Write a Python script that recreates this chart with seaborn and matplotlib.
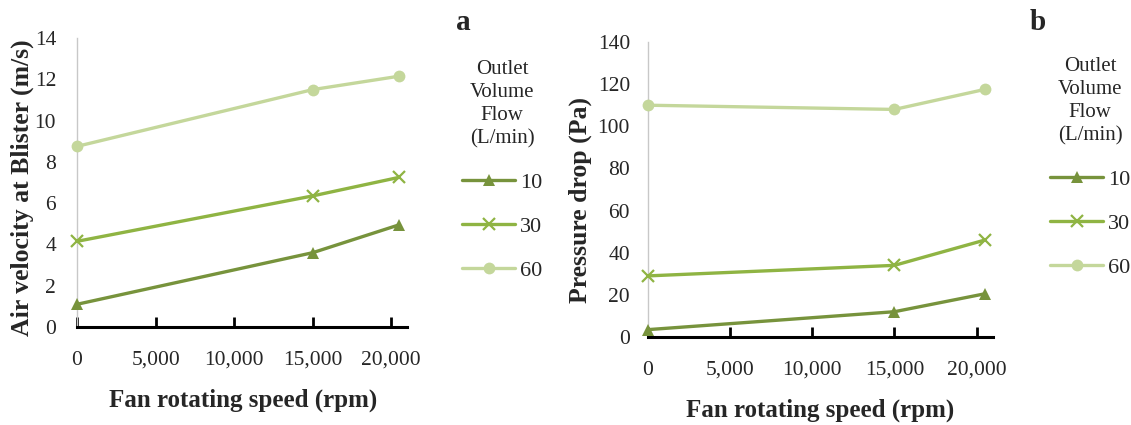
import matplotlib
matplotlib.use("Agg")
import matplotlib.pyplot as plt
import seaborn as sns
import pandas as pd
from matplotlib.ticker import FuncFormatter

sns.set_theme(style="white")
plt.rcParams['font.family'] = ['Liberation Serif', 'DejaVu Serif']

# ---- data ----
speed = [0, 15000, 20500]
flows = ["10", "30", "60"]
vel_10 = [1.1, 3.6, 4.95]
vel_30 = [4.15, 6.35, 7.25]
vel_60 = [8.75, 11.5, 12.15]
dp_10 = [3.5, 12.0, 20.5]
dp_30 = [29.0, 34.0, 46.0]
dp_60 = [110.0, 108.0, 117.5]

colors = {"10": "#77933C", "30": "#8FB443", "60": "#C4D79B"}
markers = {"10": "^", "30": "x", "60": "o"}


def make_df(s10, s30, s60):
    rows = []
    for f, s in zip(flows, [s10, s30, s60]):
        for x, y in zip(speed, s):
            rows.append({"speed": x, "value": y, "flow": f})
    return pd.DataFrame(rows)


df_a = make_df(vel_10, vel_30, vel_60)
df_b = make_df(dp_10, dp_30, dp_60)

W, H = 1131, 425
fig = plt.figure(figsize=(W / 100, H / 100), dpi=100)
ax_a = fig.add_axes([77 / W, 1 - 327 / H, (407 - 77) / W, (327 - 38) / H])
ax_b = fig.add_axes([648 / W, 1 - 337 / H, (993 - 648) / W, (337 - 42) / H])


def style(ax, df, ymax, ystep, ylabel, xlab_pos, ylab_pos, letter, letter_pos,
          leg_pos, ypad):
    for f in flows:
        sub = df[df.flow == f]
        sns.lineplot(data=sub, x="speed", y="value", ax=ax, color=colors[f],
                     marker=markers[f], markersize=8.5,
                     markeredgewidth=1.6 if f == "30" else 0,
                     markeredgecolor=colors[f],
                     linewidth=2.4, label=f, clip_on=False, zorder=3)
    ax.set_xlim(0, 21000)
    ax.set_ylim(0, ymax)
    ax.set_xticks([0, 5000, 10000, 15000, 20000])
    ax.set_yticks(list(range(0, ymax + 1, ystep)))
    ax.xaxis.set_major_formatter(FuncFormatter(lambda v, p: f"{int(v):,}"))
    for s in ["top", "right"]:
        ax.spines[s].set_visible(False)
    ax.spines["left"].set_color("#C8C8C8")
    ax.spines["left"].set_linewidth(1.0)
    ax.spines["bottom"].set_color("black")
    ax.spines["bottom"].set_linewidth(2.2)
    ax.tick_params(axis="x", direction="in", length=7, width=2, color="black",
                   pad=17, labelsize=15.5, bottom=True)
    ax.tick_params(axis="y", length=0, pad=ypad, labelsize=15.5)
    ax.set_ylabel(ylabel, fontsize=18.5, fontweight="bold")
    ax.set_xlabel("Fan rotating speed (rpm)", fontsize=18, fontweight="bold")
    ax.xaxis.set_label_coords(xlab_pos[0] / W, 1 - xlab_pos[1] / H,
                              transform=fig.transFigure)
    ax.xaxis.label.set_va("center")
    ax.yaxis.set_label_coords(ylab_pos[0] / W, 1 - ylab_pos[1] / H,
                              transform=fig.transFigure)
    ax.yaxis.label.set_va("center")
    fig.text(letter_pos[0] / W, 1 - letter_pos[1] / H, letter, fontsize=21,
             fontweight="bold", ha="center", va="center")
    leg = ax.legend(title="Outlet\nVolume\nFlow\n(L/min)", loc="upper left",
                    bbox_to_anchor=(leg_pos[0] / W, 1 - leg_pos[1] / H),
                    bbox_transform=fig.transFigure, frameon=False,
                    fontsize=16, title_fontsize=15, handlelength=2.4,
                    handletextpad=0.2, labelspacing=1.05, borderpad=0,
                    borderaxespad=0)
    leg.get_title().set_multialignment("center")
    leg.get_title().set_linespacing(1.3)


style(ax_a, df_a, 14, 2, "Air velocity at Blister (m/s)", (243, 400), (22, 188),
      "a", (463, 22), (462, 60), 15)
style(ax_b, df_b, 140, 20, "Pressure drop (Pa)", (820, 410), (580, 200),
      "b", (1038, 22), (1050, 57), 13)

fig.savefig("out.png", dpi=100)
